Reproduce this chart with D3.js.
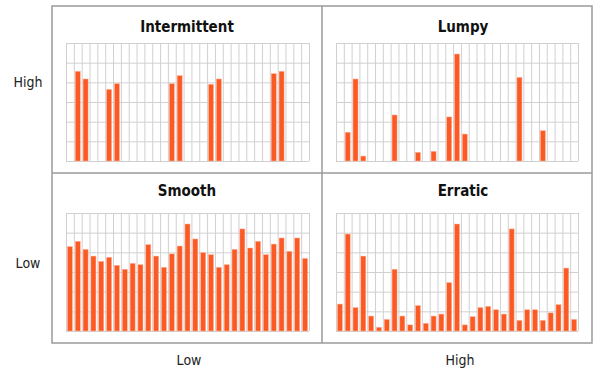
<!DOCTYPE html>
<html>
<head>
<meta charset="utf-8">
<script src="https://cdn.jsdelivr.net/npm/d3@7"></script>
<style>
    body { margin: 0; background: #fff; }
    .grid line { stroke: #d0d0d0; stroke-width: 1px; }
    .grid .domain { display: none; }
    .panel-title { font-family: "DejaVu Sans Condensed", "DejaVu Sans", sans-serif; font-weight: bold; font-size: 15px; fill: #111; }
    .side-label { font-family: "DejaVu Sans Condensed", "DejaVu Sans", sans-serif; font-size: 14px; fill: #222; }
</style>
</head>
<body>
<div id="chart"></div>
<script>
// demand pattern quadrants (top-left, top-right, bottom-left, bottom-right)
const panelTitles = ["Intermittent", "Lumpy", "Smooth", "Erratic"];
const rowLabels = ["High", "Low"];
const colLabels = ["Low", "High"];

const intermittent = [0, 4.56, 4.17, 0, 0, 3.64, 3.93, 0, 0, 0, 0, 0, 0, 3.93, 4.34, 0, 0, 0,
    3.90, 4.17, 0, 0, 0, 0, 0, 0, 4.44, 4.56, 0, 0, 0];
const lumpy = [0, 1.46, 4.17, 0.25, 0, 0, 0, 2.34, 0, 0, 0.44, 0, 0.49, 0, 2.24, 5.44, 1.37, 0,
    0, 0, 0, 0, 0, 4.25, 0, 0, 1.54, 0, 0, 0, 0];
const smooth = [4.29, 4.56, 4.15, 3.81, 3.54, 3.75, 3.34, 3.14, 3.44, 3.37, 4.39, 3.81, 3.24,
    3.92, 4.32, 5.44, 4.68, 3.98, 3.88, 3.24, 3.37, 4.15, 5.19, 4.22, 4.56, 3.88, 4.42, 4.73,
    4.05, 4.73, 3.69];
const erratic = [1.37, 4.93, 1.19, 3.81, 0.76, 0.19, 0.59, 3.14, 0.76, 0.31, 1.29, 0.39, 0.76,
    0.86, 2.46, 5.44, 0.31, 0.73, 1.19, 1.25, 1.08, 0.86, 5.19, 0.54, 1.08, 1.08, 0.54, 0.92,
    1.34, 3.20, 0.59];
const yMax = 6;

class BarPanel {
    constructor(svg, box, title, data) {
        this.svg = svg;
        this.box = box;
        this.title = title;
        this.data = data;
        this.initVis();
    }

    initVis() {
        let vis = this;
        let b = vis.box;

        vis.g = vis.svg.append("g")
            .attr("transform", "translate(" + b.x + "," + b.y + ")");

        vis.x = d3.scaleBand()
            .domain(d3.range(vis.data.length))
            .range([0, b.w])
            .paddingInner(0.36)
            .paddingOuter(0.18);
        vis.xGrid = d3.scaleLinear().domain([0, vis.data.length]).range([0, b.w]);
        vis.y = d3.scaleLinear().domain([0, yMax]).range([b.h, 0]);

        // grid lines
        vis.g.append("g")
            .attr("class", "grid")
            .attr("transform", "translate(0," + b.h + ")")
            .call(d3.axisBottom(vis.xGrid).tickValues(d3.range(vis.data.length + 1)).tickSize(-b.h).tickFormat(""));
        vis.g.append("g")
            .attr("class", "grid")
            .call(d3.axisLeft(vis.y).tickValues(d3.range(yMax + 1)).tickSize(-b.w).tickFormat(""));

        vis.g.selectAll(".bar")
            .data(vis.data)
            .enter()
            .append("rect")
            .attr("class", "bar")
            .attr("x", (d, i) => vis.x(i))
            .attr("y", d => vis.y(d))
            .attr("width", vis.x.bandwidth())
            .attr("height", d => vis.y(0) - vis.y(d))
            .attr("fill", "#fc5a25")
            .attr("stroke", "#ffb296")
            .attr("stroke-width", 0.5)
            .attr("display", d => d > 0 ? null : "none");

        vis.svg.append("text")
            .attr("class", "panel-title")
            .attr("x", b.titleX)
            .attr("y", b.titleY)
            .attr("text-anchor", "middle")
            .text(vis.title);
    }
}

let width = 604, height = 375;
let svg = d3.select("#chart").append("svg")
    .attr("width", width)
    .attr("height", height);

// quadrant frame
let frame = {left: 52, right: 592, top: 6, bottom: 343, midX: 322, midY: 173};
let frameG = svg.append("g")
    .attr("stroke", "#9a9a9a")
    .attr("stroke-width", 1.5);
frameG.append("rect")
    .attr("x", frame.left).attr("y", frame.top)
    .attr("width", frame.right - frame.left).attr("height", frame.bottom - frame.top)
    .attr("fill", "none");
frameG.append("line")
    .attr("x1", frame.midX).attr("x2", frame.midX)
    .attr("y1", frame.top).attr("y2", frame.bottom);
frameG.append("line")
    .attr("x1", frame.left).attr("x2", frame.right)
    .attr("y1", frame.midY).attr("y2", frame.midY);

let boxes = [
    {x: 66, y: 43, w: 243, h: 118, titleX: 187, titleY: 32},
    {x: 336, y: 43, w: 242, h: 118, titleX: 463, titleY: 32},
    {x: 66, y: 213, w: 243, h: 118, titleX: 187, titleY: 196},
    {x: 336, y: 213, w: 242, h: 118, titleX: 463, titleY: 196}
];
let series = [intermittent, lumpy, smooth, erratic];
series.forEach((s, i) => new BarPanel(svg, boxes[i], panelTitles[i], s));

// axis labels
svg.selectAll(".row-label")
    .data(rowLabels)
    .enter()
    .append("text")
    .attr("class", "side-label")
    .attr("x", 28)
    .attr("y", (d, i) => i === 0 ? 87 : 268)
    .attr("text-anchor", "middle")
    .text(d => d);

svg.selectAll(".col-label")
    .data(colLabels)
    .enter()
    .append("text")
    .attr("class", "side-label")
    .attr("x", (d, i) => i === 0 ? 189 : 460)
    .attr("y", 365)
    .attr("text-anchor", "middle")
    .text(d => d);
</script>
</body>
</html>
